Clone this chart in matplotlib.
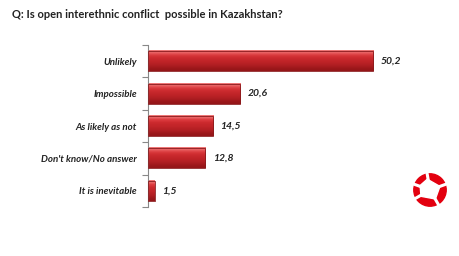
import numpy as np
import matplotlib
matplotlib.use("Agg")
import matplotlib.pyplot as plt
from matplotlib.patches import Circle, Polygon, Rectangle
from matplotlib.colors import LinearSegmentedColormap

categories = ["Unlikely", "Impossible", "As likely as not", "Don't know/No answer", "It is inevitable"]
values = [50.2, 20.6, 14.5, 12.8, 1.5]
value_labels = ["50,2", "20,6", "14,5", "12,8", "1,5"]
title = "Q: Is open interethnic conflict  possible in Kazakhstan?"

plt.rcParams['font.family'] = ['Lato', 'DejaVu Sans']
fig = plt.figure(figsize=(4.6, 2.56), dpi=100)
W, H = 460, 256
left, right, top, bottom = 148, 400, 45, 207
ax = fig.add_axes([left / W, 1 - bottom / H, (right - left) / W, (bottom - top) / H])

n = len(categories)
y = np.arange(n)
bh = 0.62

grad = np.array([0.0, 0.2, 0.4, 0.55, 0.7, 0.85, 1.0]).reshape(-1, 1)
cmap = LinearSegmentedColormap.from_list("barred", ["#ee7a7a", "#de3d40", "#cc2a2e", "#c02428", "#b01e22", "#941518"])
for yi, v, lab in zip(y, values, value_labels):
    ax.imshow(grad, extent=(0, v, yi + bh / 2, yi - bh / 2), aspect='auto', cmap=cmap, zorder=2, interpolation='bicubic')
    ax.add_patch(Rectangle((0, yi - bh / 2), v, bh, fill=False, edgecolor="#8a1a1c", linewidth=0.6, zorder=3))
    ax.text(v + 1.6, yi, lab, va='center', ha='left', fontsize=7.5, fontweight='bold', style='italic', color='#222222')

ax.set_ylim(n - 0.5, -0.5)
ax.set_xlim(0, 56.2)
ax.set_yticks(y)
ax.set_yticklabels(categories, fontsize=7, style='italic', fontweight='bold', color='#222222')
ax.tick_params(axis='y', which='major', length=0, pad=8)
ax.set_yticks(np.arange(-0.5, n, 1.0), minor=True)
ax.tick_params(axis='y', which='minor', length=4, color='#888888', width=0.8)
ax.set_xticks([])
for s in ['top', 'right', 'bottom']:
    ax.spines[s].set_visible(False)
ax.spines['left'].set_color('#888888')
ax.spines['left'].set_linewidth(0.8)

fig.text(12 / W, 1 - 15 / H, title, fontsize=8, fontweight='bold', color='#222222', va='center', ha='left')

# logo
lax = fig.add_axes([412 / W, 1 - 208 / H, 36 / W, 36 / H])
lax.set_xlim(-1, 1); lax.set_ylim(-1, 1); lax.set_aspect('equal'); lax.axis('off')
lax.add_patch(Circle((0, 0), 0.9, color='#e3000f'))
lax.add_patch(Polygon([(-0.15, 0.6), (0.55, 0.2), (0.3, -0.5), (-0.5, -0.35), (-0.55, 0.25)], closed=True, color='white'))
for ang in [100, 20, -60, -150, 160]:
    a = np.deg2rad(ang)
    lax.plot([0, np.cos(a)], [0, np.sin(a)], color='white', lw=2.2)

fig.savefig("out.png", dpi=100)
